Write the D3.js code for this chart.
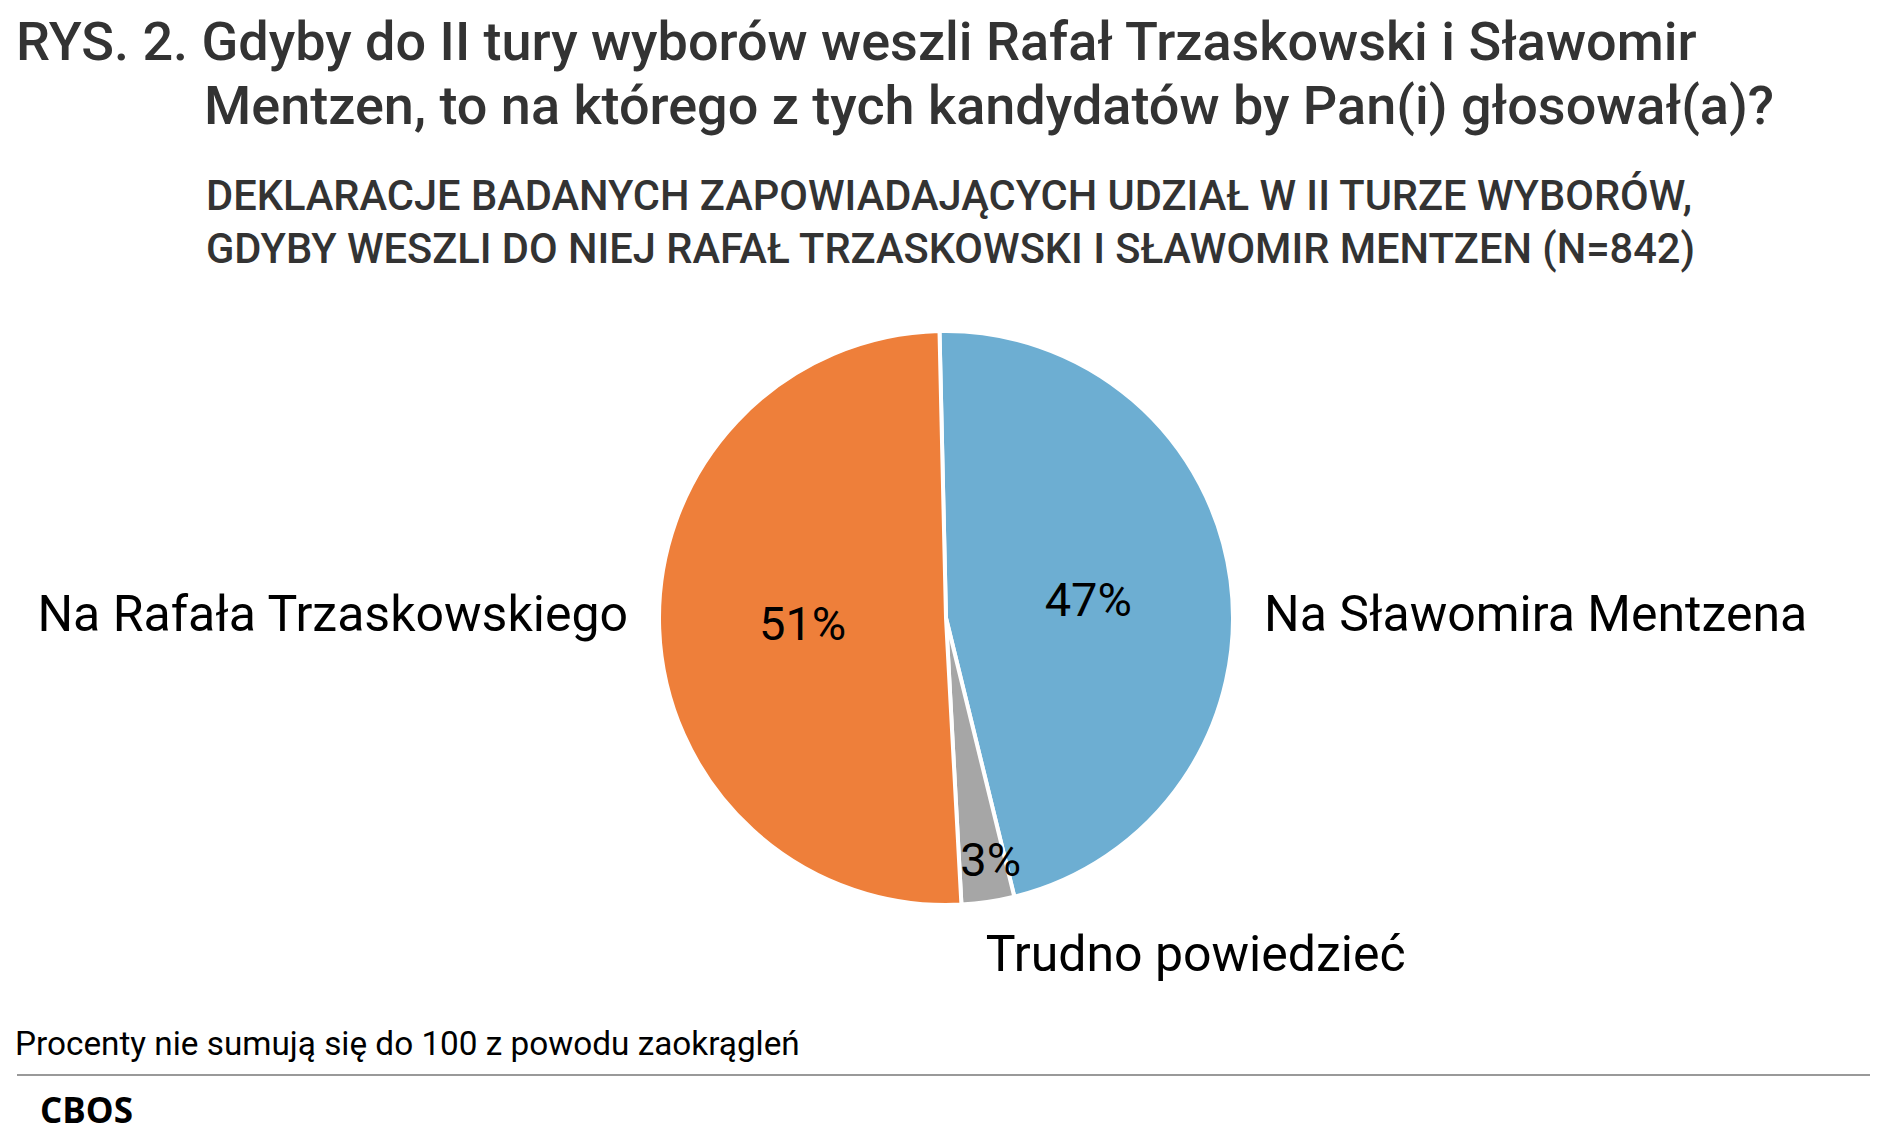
<!DOCTYPE html>
<html>
<head>
<meta charset="utf-8">
<script src="https://cdn.jsdelivr.net/npm/d3@7"></script>
<style>
  body { margin: 0; background: #fff; }
  text { font-family: Roboto, "Noto Sans", sans-serif; }
</style>
</head>
<body>
<div id="chart"></div>
<script>
var width = 1891, height = 1148;

// data, in drawing order (clockwise from the top)
var categories = ["Na Sławomira Mentzena", "Trudno powiedzieć", "Na Rafała Trzaskowskiego"];
var values = [47, 3, 51];
var colors = ["#6daed2", "#a6a6a6", "#ee7f3a"];

var titleLines = ["RYS. 2. Gdyby do II tury wyborów weszli Rafał Trzaskowski i Sławomir",
                  "Mentzen, to na którego z tych kandydatów by Pan(i) głosował(a)?"];
var subtitleLines = ["DEKLARACJE BADANYCH ZAPOWIADAJĄCYCH UDZIAŁ W II TURZE WYBORÓW,",
                     "GDYBY WESZLI DO NIEJ RAFAŁ TRZASKOWSKI I SŁAWOMIR MENTZEN (N=842)"];
var footnote = "Procenty nie sumują się do 100 z powodu zaokrągleń";
var source = "CBOS";

var svg = d3.select("#chart").append("svg")
    .attr("width", width)
    .attr("height", height);

// title
svg.append("text")
    .attr("x", 16).attr("y", 60)
    .attr("font-size", 54).attr("font-weight", 500).attr("fill", "#333")
    .text(titleLines[0]);
svg.append("text")
    .attr("x", 204).attr("y", 124)
    .attr("font-size", 54).attr("font-weight", 500).attr("fill", "#333")
    .text(titleLines[1]);

// subtitle
svg.selectAll(".sub").data(subtitleLines).enter().append("text")
    .attr("class", "sub")
    .attr("x", 206)
    .attr("y", function(d, i) { return 210 + i * 53; })
    .attr("font-size", 41.6).attr("font-weight", 500).attr("fill", "#333")
    .text(function(d) { return d; });

// pie
var cx = 946, cy = 618, r = 287;
var offset = -1.3 * Math.PI / 180;

var pie = d3.pie().sort(null)
    .startAngle(offset)
    .endAngle(offset + 2 * Math.PI);
var arcs = pie(values);

var arc = d3.arc().innerRadius(0).outerRadius(r);

var g = svg.append("g")
    .attr("transform", "translate(" + cx + "," + cy + ")");

g.selectAll("path").data(arcs).enter().append("path")
    .attr("d", arc)
    .attr("fill", function(d, i) { return colors[i]; })
    .attr("stroke", "#fff")
    .attr("stroke-width", 4)
    .attr("stroke-linejoin", "round");

function mid(d) { return (d.startAngle + d.endAngle) / 2; }
function small(d) { return (d.endAngle - d.startAngle) < 0.3; }

// percent labels
g.selectAll(".pct").data(arcs).enter().append("text")
    .attr("class", "pct")
    .attr("transform", function(d) {
        var rr = small(d) ? r * 0.85 : r * 0.5;
        var a = mid(d);
        return "translate(" + (Math.sin(a) * rr) + "," + (-Math.cos(a) * rr) + ")";
    })
    .attr("dx", function(d) { return small(d) ? 9 : 0; })
    .attr("dy", "0.36em")
    .attr("text-anchor", "middle")
    .attr("font-size", 47)
    .attr("fill", "#000")
    .text(function(d) { return d.data + "%"; });

// category labels
g.selectAll(".cat").data(arcs).enter().append("text")
    .attr("class", "cat")
    .attr("transform", function(d) {
        var a = mid(d);
        if (!small(d)) {
            var x = Math.sin(a) > 0 ? r + 31 : -(r + 31);
            return "translate(" + x + ",-5)";
        }
        var rr = r + 52;
        return "translate(" + (Math.sin(a) * rr - 10) + "," + (-Math.cos(a) * rr) + ")";
    })
    .attr("dy", "0.36em")
    .attr("text-anchor", function(d) {
        if (!small(d)) return Math.sin(mid(d)) > 0 ? "start" : "end";
        return "start";
    })
    .attr("font-size", 50)
    .attr("fill", "#000")
    .text(function(d, i) { return categories[i]; });

// footnote, rule and source
svg.append("text")
    .attr("x", 15).attr("y", 1055)
    .attr("font-size", 33.3).attr("fill", "#000")
    .text(footnote);

svg.append("line")
    .attr("x1", 17).attr("x2", 1870)
    .attr("y1", 1075).attr("y2", 1075)
    .attr("stroke", "#999").attr("stroke-width", 2);

svg.append("text")
    .attr("x", 40).attr("y", 1123)
    .attr("font-size", 35).attr("font-weight", 700)
    .style("font-family", "'Open Sans', sans-serif")
    .attr("fill", "#000")
    .text(source);
</script>
</body>
</html>
